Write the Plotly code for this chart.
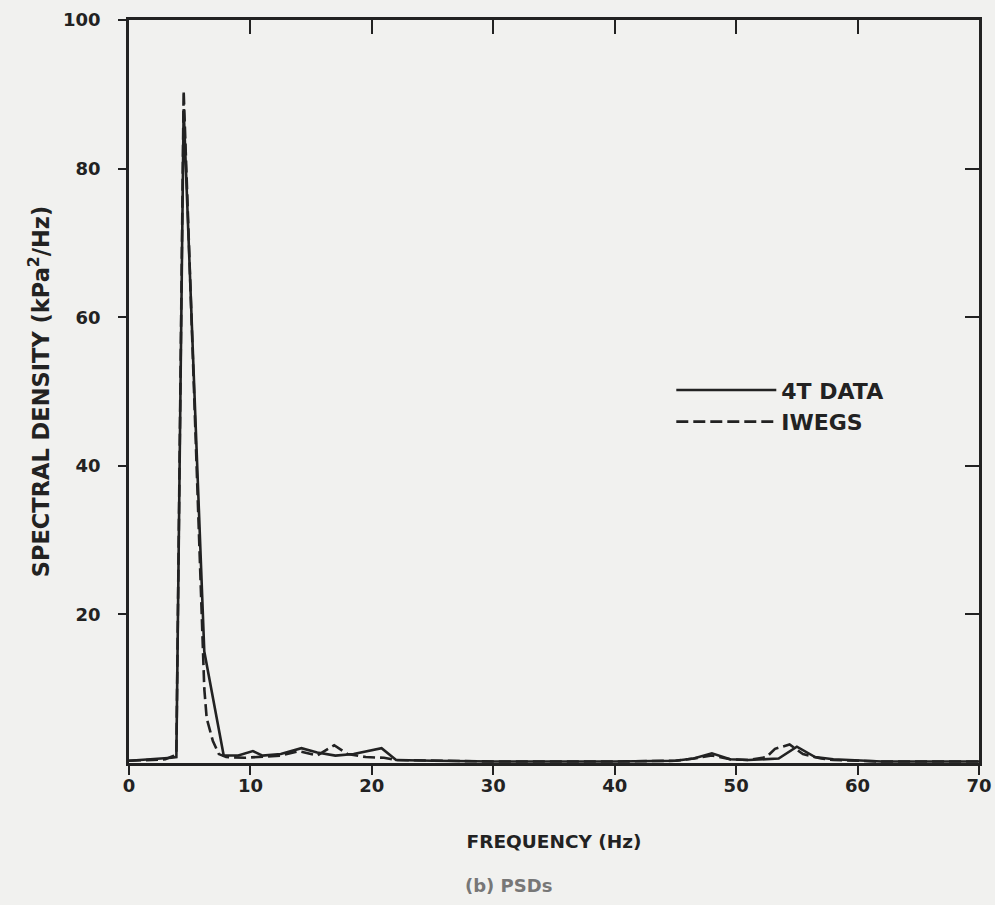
import plotly.graph_objects as go

# ---- data ----
freq_4t = [0, 2, 3.5, 3.9, 4.5, 6.2, 7.8, 9, 10.2, 11, 12.5, 14.2, 15.5, 17, 18.5,
           20.8, 22, 25, 30, 40, 45, 46.5, 48, 49.5, 51, 53.5, 55, 56.5, 58, 62, 70]
sd_4t = [0.3, 0.5, 0.7, 0.8, 88, 15, 1.0, 1.0, 1.6, 1.0, 1.2, 2.0, 1.4, 1.0, 1.2,
         2.0, 0.4, 0.3, 0.2, 0.2, 0.3, 0.6, 1.3, 0.5, 0.4, 0.6, 2.2, 0.8, 0.5, 0.2, 0.2]

freq_iw = [0, 3, 3.7, 3.9, 4.5, 6.0, 6.2, 6.4, 6.9, 7.4, 8, 9.5, 11, 12.5, 14,
           15.5, 16.9, 18, 19.5, 21, 22, 25, 30, 40, 45, 46.5, 48, 49.5, 51, 52.5,
           53.2, 54.4, 55.5, 57, 58, 62, 70]
sd_iw = [0.3, 0.5, 1.0, 1.2, 90.5, 20, 10, 6, 3, 1.2, 0.8, 0.7, 0.8, 1.0, 1.6,
         1.0, 2.4, 1.2, 0.8, 0.7, 0.4, 0.3, 0.2, 0.2, 0.3, 0.6, 1.0, 0.5, 0.4, 0.8,
         1.9, 2.5, 1.2, 0.6, 0.4, 0.2, 0.2]

x_ticks = [0, 10, 20, 30, 40, 50, 60, 70]
y_ticks = [20, 40, 60, 80, 100]

BG = "#f1f1ef"
INK = "#222222"
FONT = "DejaVu Sans, Liberation Sans, sans-serif"

fig = go.Figure()
fig.add_trace(go.Scatter(x=freq_4t, y=sd_4t, mode="lines", name="4T DATA",
                         line=dict(color=INK, width=2.6)))
fig.add_trace(go.Scatter(x=freq_iw, y=sd_iw, mode="lines", name="IWEGS",
                         line=dict(color=INK, width=2.6, dash="12px,5px")))
# invisible trace for mirror axes (top/right inside ticks)
fig.add_trace(go.Scatter(x=[0, 70], y=[0, 100], xaxis="x2", yaxis="y2",
                         mode="lines", line=dict(width=0), showlegend=False,
                         hoverinfo="skip"))

fig.update_layout(
    width=995, height=905,
    margin=dict(l=129, r=16, t=20, b=142, autoexpand=False),
    paper_bgcolor=BG, plot_bgcolor=BG,
    font=dict(family=FONT, color=INK, size=18),
    xaxis=dict(range=[0, 70], tickvals=x_ticks, ticks="outside", ticklen=9,
               tickwidth=2, tickcolor=INK, showgrid=False, zeroline=False,
               showline=True, linecolor=INK, linewidth=2.5, automargin=False,
               ticklabelstandoff=-4,
               tickfont=dict(size=18, family=FONT, weight="bold"),
               title=dict(text="FREQUENCY (Hz)",
                          font=dict(size=18.5, family=FONT, weight="bold"), standoff=40)),
    yaxis=dict(range=[0, 100], tickvals=y_ticks, ticks="outside", ticklen=8,
               tickwidth=2, tickcolor=INK, showgrid=False, zeroline=False,
               showline=True, linecolor=INK, linewidth=2.5, automargin=False,
               ticklabelstandoff=14,
               tickfont=dict(size=18, family=FONT, weight="bold"),
               title=dict(text="SPECTRAL DENSITY (kPa<sup>2</sup>/Hz)",
                          font=dict(size=22.5, family=FONT, weight="bold"), standoff=8)),
    xaxis2=dict(range=[0, 70], tickvals=x_ticks, overlaying="x", side="top",
                ticks="inside", ticklen=14, tickwidth=2, tickcolor=INK,
                showticklabels=False, showgrid=False, zeroline=False, automargin=False,
                showline=True, linecolor=INK, linewidth=2.5),
    yaxis2=dict(range=[0, 100], tickvals=y_ticks, overlaying="y", side="right",
                ticks="inside", ticklen=14, tickwidth=2, tickcolor=INK,
                showticklabels=False, showgrid=False, zeroline=False, automargin=False,
                showline=True, linecolor=INK, linewidth=2.5),
    legend=dict(x=0.638, y=0.53, xanchor="left", yanchor="top",
                bgcolor="rgba(0,0,0,0)", itemwidth=100,
                font=dict(size=22, family=FONT, weight="bold", color=INK),
                tracegroupgap=0),
    showlegend=True,
)

fig.add_annotation(text="(b) PSDs", xref="paper", yref="paper",
                   x=0.446, y=-0.182, showarrow=False,
                   font=dict(size=18, color="#777777", family=FONT, weight="bold"))

fig.write_html("out.html", config={"displayModeBar": False},
               post_script="document.body.style.margin='0';document.body.style.overflow='hidden';")
